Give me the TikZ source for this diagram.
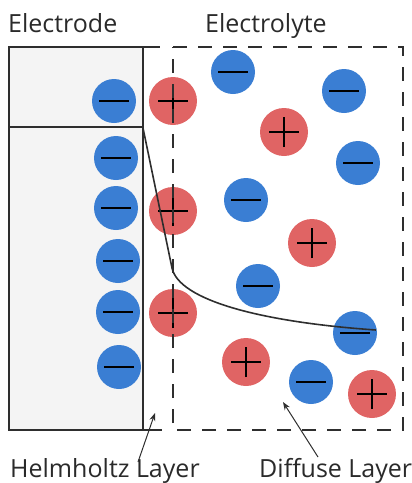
\documentclass[tikz,border=0pt]{standalone}
\usepackage{fontspec}
\setmainfont{Open Sans}
\usetikzlibrary{arrows.meta}
\definecolor{ionblue}{HTML}{3A7ED3}
\definecolor{ionred}{HTML}{E06464}
\definecolor{efill}{HTML}{F4F4F4}
\definecolor{linegray}{HTML}{2E2E2E}
\definecolor{textgray}{HTML}{2A2A2A}
\begin{document}
\begin{tikzpicture}[x=1pt,y=-1pt,
  anion/.style={circle, fill=ionblue, minimum size=44pt, inner sep=0pt,
    path picture={\draw[line width=2pt, black] ([xshift=-15pt]path picture bounding box.center) -- ([xshift=15pt]path picture bounding box.center);}},
  cation/.style={circle, fill=ionred, minimum size=48pt, inner sep=0pt,
    path picture={\draw[line width=2pt, black] ([xshift=-15pt]path picture bounding box.center) -- ([xshift=15pt]path picture bounding box.center)
      ([yshift=-15pt]path picture bounding box.center) -- ([yshift=15pt]path picture bounding box.center);}},
  lbl/.style={font=\fontsize{25}{29}\selectfont, text=textgray, inner sep=0pt, anchor=base west},
  boxline/.style={line width=2pt, draw=linegray},
  dashline/.style={line width=2pt, draw=linegray, dash pattern=on 14pt off 11pt},
  potline/.style={line width=1.6pt, draw=linegray},
  pointer/.style={line width=1pt, draw=linegray, -{Stealth[length=8pt,width=6pt]}}]
\useasboundingbox (0,0) rectangle (412,483);
% electrode
\fill[efill] (9,47) rectangle (143,430);
% ions
\node[anion] (n1) at (114,101) {};
\node[anion] (n2) at (116,158) {};
\node[anion] (n3) at (116,208) {};
\node[anion] (n4) at (118,261) {};
\node[anion] (n5) at (118,312) {};
\node[anion] (n6) at (119,367) {};
\node[cation] (p1) at (173,101) {};
\node[cation] (p2) at (173,211) {};
\node[cation] (p3) at (173,313) {};
\node[anion] (e1) at (233,72) {};
\node[anion] (e2) at (344,91) {};
\node[cation] (e3) at (284,132) {};
\node[anion] (e4) at (358,163) {};
\node[anion] (e5) at (246,200) {};
\node[cation] (e6) at (312,243) {};
\node[anion] (e7) at (258,286) {};
\node[anion] (e8) at (355,333) {};
\node[cation] (e9) at (246,362) {};
\node[anion] (e10) at (311,382) {};
\node[cation] (e11) at (372,394) {};
% electrode box
\draw[boxline] (9,47) rectangle (143,430);
\draw[boxline] (143,47) -- (160,47);
\draw[boxline] (143,430) -- (162,430);
\draw[boxline] (9,127) -- (143,127);
% diffuse region
\draw[dashline] (173,47) -- (403,47) -- (403,430) -- (173,430) -- cycle;
% potential curve
\coordinate (c0) at (143,128);
\coordinate (c1) at (172,268);
\coordinate (c2) at (376,330);
\draw[potline] (c0) -- (c1) .. controls (179,300) and (260,322) .. (c2);
% labels
\node[lbl] (electrode) at (8,32) {Electrode};
\node[lbl] (electrolyte) at (205,32) {Electrolyte};
\node[lbl] (helm) at (10,477) {Helmholtz Layer};
\node[lbl] (diff) at (259,477) {Diffuse Layer};
\coordinate (h0) at (138,462);
\coordinate (h1) at (155,413);
\coordinate (d0) at (318,457);
\coordinate (d1) at (283,402);
\draw[pointer] (h0) -- (h1);
\draw[pointer] (d0) -- (d1);
\end{tikzpicture}
\end{document}
